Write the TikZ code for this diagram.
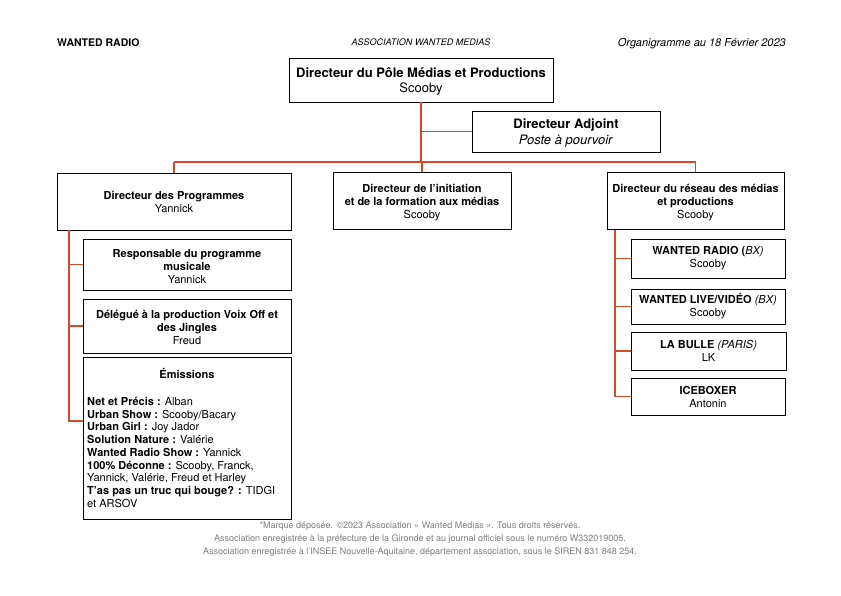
\documentclass[tikz,border=0pt]{standalone}
\usepackage{fontspec}
\setmainfont{TeX Gyre Heros}
\usetikzlibrary{calc}
\definecolor{linkred}{RGB}{214,72,42}
\definecolor{footgrey}{RGB}{125,125,125}
\newcommand\myupgapA{\rule{0pt}{13pt}}
\newcommand\myupgapB{\rule{0pt}{12pt}}
\begin{document}
\begin{tikzpicture}[x=1pt,y=-1pt,
  box/.style={draw=black, line width=0.9pt, fill=white, align=center, inner sep=2pt},
  lvlA/.style={box, font=\fontsize{13}{15.5}\selectfont},
  lvlB/.style={box, font=\fontsize{11}{13}\selectfont},
  conn/.style={draw=linkred, line width=1.2pt},
  foot/.style={font=\fontsize{9}{10.5}\selectfont, text=footgrey, inner sep=0, anchor=base}]
\fill[white] (0,0) rectangle (841,595);
\useasboundingbox (0,0) rectangle (841,595);

% header
\node[font=\bfseries\fontsize{10.5}{12}\selectfont, anchor=base west, inner sep=0] (hl) at (57,46) {WANTED RADIO};
\node[font=\itshape\fontsize{9}{11}\selectfont, anchor=base, inner sep=0] (hc) at (421,45.5) {ASSOCIATION WANTED MEDIAS};
\node[font=\itshape\fontsize{11}{13}\selectfont, anchor=base east, inner sep=0] (hr) at (786,46) {Organigramme au 18 Février 2023};

% coordinates
\coordinate (bar) at (0,162);
\coordinate (lspine) at (69,0);
\coordinate (rspine) at (615,0);

% top levels
\node[lvlA, minimum width=264pt, minimum height=44pt] (top) at (421,80) {\myupgapA\textbf{Directeur du Pôle Médias et Productions}\\Scooby};
\node[lvlA, minimum width=188pt, minimum height=41pt] (adj) at (566,131.5) {\myupgapA\textbf{Directeur Adjoint}\\\textit{Poste à pourvoir}};

\node[lvlB, minimum width=234pt, minimum height=57pt] (prog) at (174,201.5) {\textbf{Directeur des Programmes}\\Yannick};
\node[lvlB, minimum width=178pt, minimum height=57pt] (init) at (422,201) {\myupgapB\textbf{Directeur de l’initiation}\\\textbf{et de la formation aux médias}\\Scooby};
\node[lvlB, minimum width=177pt, minimum height=57pt] (res) at (695.5,201) {\myupgapB\textbf{Directeur du réseau des médias}\\\textbf{et productions}\\Scooby};

% left column
\node[lvlB, minimum width=208pt, minimum height=51pt] (resp) at (187,264.5) {\myupgapB\textbf{Responsable du programme}\\\textbf{musicale}\\Yannick};
\node[lvlB, minimum width=208pt, minimum height=54pt] (deleg) at (187,326) {\myupgapB\textbf{Délégué à la production Voix Off et}\\\textbf{des Jingles}\\Freud};
\node[box, minimum width=208pt, minimum height=162pt] (emi) at (187,438) {};
\node[font=\bfseries\fontsize{11}{13}\selectfont, inner sep=0, anchor=base] (emititle) at (187,378) {Émissions};
\node[font=\fontsize{11}{12.75}\selectfont, inner sep=0, anchor=north west, align=left] (emilist) at (87,397) {%
\textbf{Net et Précis :} Alban\\
\textbf{Urban Show :} Scooby/Bacary\\
\textbf{Urban Girl :} Joy Jador\\
\textbf{Solution Nature :} Valérie\\
\textbf{Wanted Radio Show :} Yannick\\
\textbf{100\% Déconne :} Scooby, Franck,\\
Yannick, Valérie, Freud et Harley\\
\textbf{T’as pas un truc qui bouge? :} TIDGI\\
et ARSOV};

% right column
\node[lvlB, minimum width=154pt, minimum height=39pt] (radio) at (708,258.5) {\textbf{WANTED RADIO (}\textit{BX)}\\Scooby};
\node[lvlB, minimum width=154pt, minimum height=35pt] (live) at (708,306.5) {\textbf{WANTED LIVE/VIDÉO} \textit{(BX)}\\Scooby};
\node[lvlB, minimum width=155pt, minimum height=38pt] (bulle) at (708.5,351) {\textbf{LA BULLE} \textit{(PARIS)}\\LK};
\node[lvlB, minimum width=154pt, minimum height=37pt] (ice) at (708,396.5) {\textbf{ICEBOXER}\\Antonin};

% connectors
\draw[conn] (top.south) -- (top.south |- bar);
\draw[conn] (adj.west) -- (adj.west -| top.south);
\draw[conn] (prog.north |- bar) -- (res.north |- bar);
\draw[conn] (prog.north |- bar) -- (prog.north);
\draw[conn] (init.north |- bar) -- (init.north);
\draw[conn] (res.north |- bar) -- (res.north);

\draw[conn] (prog.south -| lspine) -- ([yshift=17pt]emi.west -| lspine) -- ([yshift=17pt]emi.west);
\draw[conn] (resp.west -| lspine) -- (resp.west);
\draw[conn] (deleg.west -| lspine) -- (deleg.west);

\draw[conn] (res.south -| rspine) -- (ice.west -| rspine) -- (ice.west);
\draw[conn] (radio.west -| rspine) -- (radio.west);
\draw[conn] (live.west -| rspine) -- (live.west);
\draw[conn] (bulle.west -| rspine) -- (bulle.west);

% footer
\node[foot] (f1) at (420,528) {*Marque déposée. ©2023 Association « Wanted Medias ». Tous droits réservés.};
\node[foot] (f2) at (420,541) {Association enregistrée à la préfecture de la Gironde et au journal officiel sous le numéro W332019005.};
\node[foot] (f3) at (420,554) {Association enregistrée à l'INSEE Nouvelle-Aquitaine, département association, sous le SIREN 831 848 254.};
\end{tikzpicture}
\end{document}
